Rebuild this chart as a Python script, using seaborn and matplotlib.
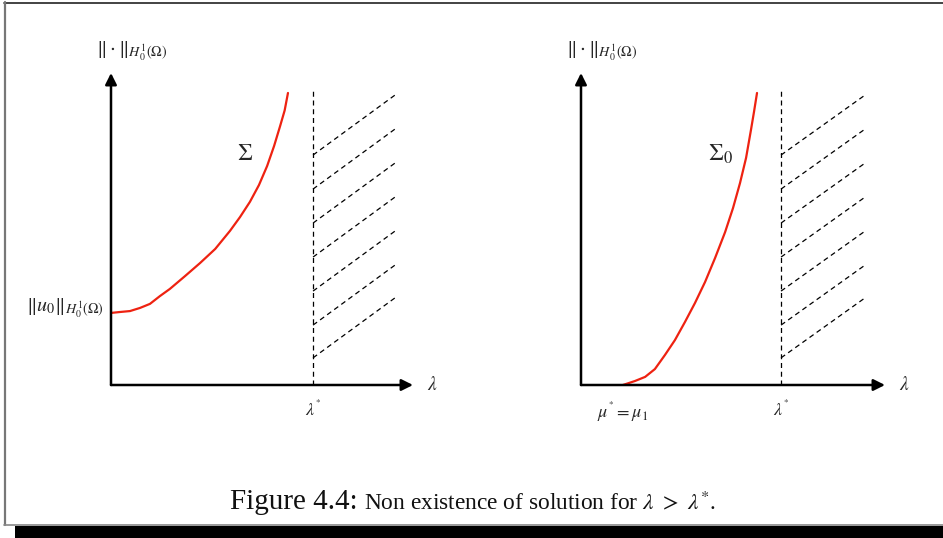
import matplotlib
matplotlib.use("Agg")
import matplotlib.pyplot as plt
import seaborn as sns
import pandas as pd
from matplotlib.patches import Rectangle
from matplotlib.lines import Line2D

sns.set_theme(style="white")
plt.rcParams["font.family"] = ["Liberation Serif", "DejaVu Serif"]
plt.rcParams["mathtext.fontset"] = "stix"

# Solution branch Sigma (left) and Sigma_0 (right): lambda vs norm
sigma_lam = [0.00, 0.30, 0.63, 0.96, 1.29, 1.62, 1.95, 2.45, 2.95, 3.45, 3.94,
             4.27, 4.60, 4.90, 5.17, 5.40, 5.60, 5.75, 5.86]
sigma_norm = [2.31, 2.34, 2.37, 2.47, 2.60, 2.85, 3.08, 3.49, 3.91, 4.36, 4.94,
              5.38, 5.87, 6.41, 7.02, 7.66, 8.30, 8.80, 9.36]
sigma0_lam = [1.38, 1.78, 2.11, 2.43, 2.76, 3.09, 3.42, 3.75, 4.08, 4.41, 4.74,
              5.00, 5.23, 5.43, 5.59, 5.69, 5.79]
sigma0_norm = [0.00, 0.13, 0.26, 0.51, 0.96, 1.44, 2.02, 2.63, 3.30, 4.07, 4.90,
               5.67, 6.47, 7.28, 8.17, 8.75, 9.36]

lam_star_left = 6.69
lam_star_right = 6.58
mu_1 = 1.38

# Hatched region lambda > lambda*: left-end heights of the dashed strokes
hatch_starts = [7.37, 6.28, 5.19, 4.10, 3.01, 1.92, 0.87]
hatch_rise = 1.92

W, H = 943, 538
fig = plt.figure(figsize=(W / 100, H / 100), dpi=100)

# Page frame and caption layer in pixel units
bg = fig.add_axes([0, 0, 1, 1])
bg.set_xlim(0, W)
bg.set_ylim(H, 0)
bg.axis("off")
bg.add_line(Line2D([4, W], [2.5, 2.5], color="#222222", lw=1.2))
bg.add_line(Line2D([4.5, 4.5], [2, 525], color="#777777", lw=1.6))
bg.add_line(Line2D([4, W], [525, 525], color="#888888", lw=1.2))
bg.add_patch(Rectangle((15, 526), W - 15, 12, color="black", lw=0))
bg.text(358, 509, "Figure 4.4:", fontsize=21, ha="right", va="baseline", color="#111111")
bg.text(364, 509, r"Non existence of solution for $\lambda\ >\ \lambda^{*}$.",
        fontsize=16.8, ha="left", va="baseline", color="#111111")


def panel(left_px, right_px, lam, norm, lam_star, hatch_end, curve_label):
    ax = fig.add_axes([left_px / W, (H - 385) / H, (right_px - left_px) / W, 312 / H])
    ax.set_xlim(0, 10)
    ax.set_ylim(0, 10)
    arrow = dict(arrowstyle="-|>", lw=1.8, color="black", mutation_scale=17,
                 shrinkA=0, shrinkB=0)
    ax.annotate("", xy=(10, 0), xytext=(0, 0), arrowprops=arrow, annotation_clip=False)
    ax.annotate("", xy=(0, 10), xytext=(0, 0), arrowprops=arrow, annotation_clip=False)

    df = pd.DataFrame({"lam": lam, "norm": norm})
    sns.lineplot(data=df, x="lam", y="norm", sort=False, color="#ee2211", lw=1.6,
                 ax=ax, estimator=None)
    ax.set_xlabel("")
    ax.set_ylabel("")
    ax.axis("off")

    ax.plot([lam_star, lam_star], [0, 9.52], color="black", lw=0.9, ls=(0, (4, 3)))
    for y0 in hatch_starts:
        ax.plot([lam_star, hatch_end], [y0, y0 + hatch_rise], color="black", lw=0.9,
                ls=(0, (4, 3)))

    ax.text(10.45, 0, r"$\lambda$", fontsize=14, ha="left", va="center")
    ax.text(lam_star, -0.45, r"$\lambda^{{}^{*}}$", fontsize=13, ha="center", va="top")
    ax.text(-0.5, 10.7, r"$\|\cdot\|_{H_0^1(\Omega)}$", fontsize=14.5, ha="left",
            va="center")
    ax.text(curve_label[0], curve_label[1], curve_label[2], fontsize=17, ha="center",
            va="center")
    return ax


axL = panel(111, 413, sigma_lam, sigma_norm, lam_star_left, 9.40, (4.45, 7.4, r"$\Sigma$"))
axL.text(-0.25, sigma_norm[0] + 0.15, r"$\|u_0\|_{H_0^1(\Omega)}$", fontsize=14.5,
         ha="right", va="center")

axR = panel(581, 885, sigma0_lam, sigma0_norm, lam_star_right, 9.34,
            (4.6, 7.4, r"$\Sigma_0$"))
axR.text(mu_1, -0.45, r"$\mu^{{}^{*}} = \mu_1$", fontsize=13, ha="center", va="top")

fig.savefig("out.png", dpi=100)
